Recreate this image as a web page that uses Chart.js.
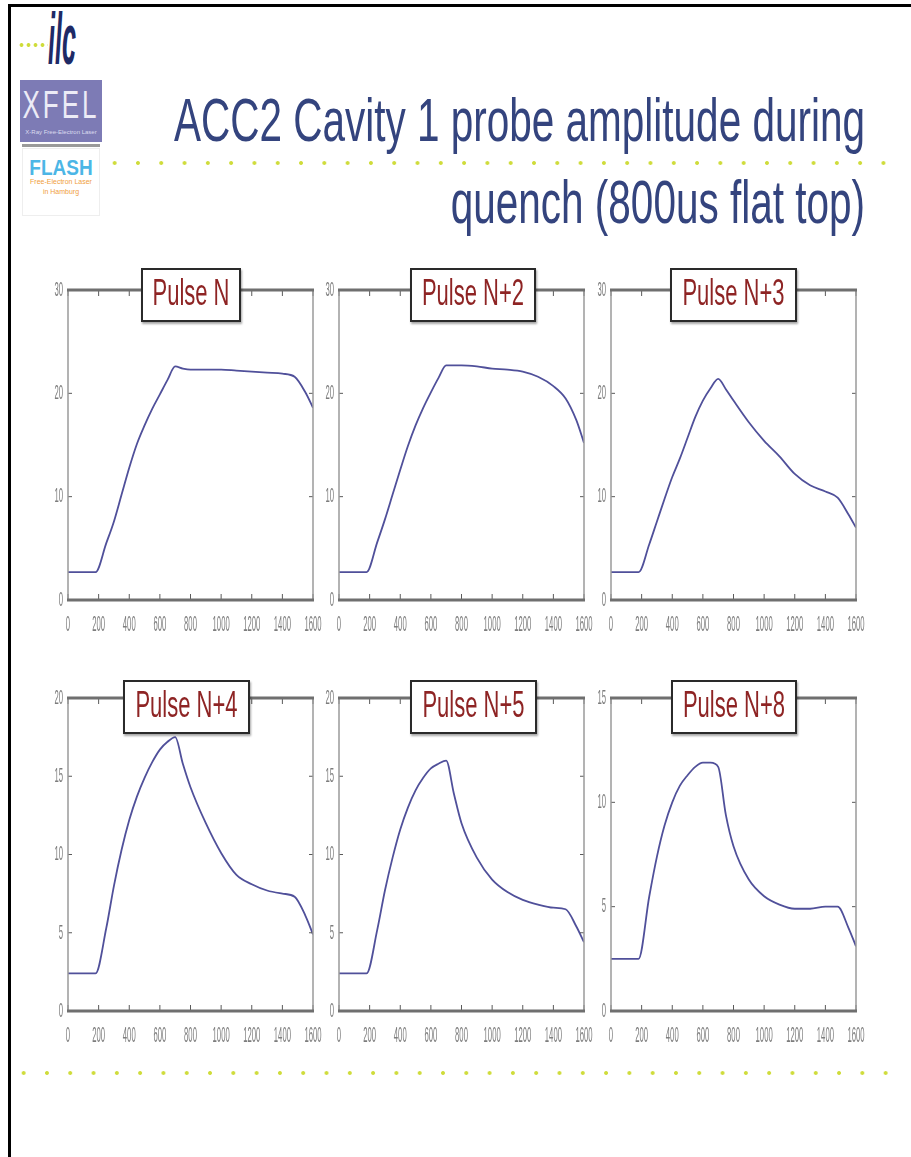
<!DOCTYPE html>
<html>
<head>
<meta charset="utf-8">
<script src="https://cdn.jsdelivr.net/npm/chart.js@4.4.1/dist/chart.umd.min.js"></script>
<style>
body { margin: 0; background: #fff; }
#page { position: relative; width: 911px; height: 1157px; overflow: hidden; font-family: "Liberation Sans", Arial, sans-serif; }
.edge-top { position: absolute; left: 8px; top: 4px; width: 903px; height: 3px; background: #000; }
.edge-left { position: absolute; left: 8px; top: 4px; width: 3px; height: 1153px; background: #000; }
.dots { position: absolute; height: 6px; background-image: radial-gradient(circle, #cfdc3a 1.5px, rgba(255,255,255,0) 2.3px); background-size: 23.3px 6px; }
.title { position: absolute; right: 46px; font-size: 40.5px; color: #34447e; line-height: 1; white-space: nowrap; transform: scaleY(1.5); transform-origin: 100% 0; }
.tag { position: absolute; height: 54px; border: 2px solid #2a2a2a; background: #fff; box-shadow: 1px 2px 2px rgba(0,0,0,0.35); box-sizing: border-box; text-align: center; color: #8e2424; font-size: 22px; z-index: 2; }
.tag span { display: inline-block; line-height: 1; transform: scaleY(1.65); margin-top: 12px; }
canvas { position: absolute; }
.ilc { position: absolute; left: 48px; top: 4px; font: italic bold 36px "Liberation Sans", Arial, sans-serif; color: #1e2a66; line-height: 1; transform: scale(0.7, 2.0); transform-origin: 0 0; }
.xfel { position: absolute; left: 20px; top: 80px; width: 82px; height: 62px; background: #7d7bb5; color: #ecebf6; text-align: center; }
.xfel b { display: block; font-weight: normal; font-size: 26px; letter-spacing: 3px; line-height: 1; margin-top: 11px; transform: scaleY(1.5); }
.xfel i { display: block; font-style: normal; font-size: 6px; margin-top: 12px; color: #dcdbef; }
.bar { position: absolute; left: 22px; top: 144px; width: 78px; height: 3px; background: #9a9a9a; }
.flash { position: absolute; left: 22px; top: 148px; width: 78px; height: 68px; border: 1px solid #eee; box-sizing: border-box; text-align: center; }
.flash b { display: block; color: #4cb6e6; font-size: 19px; margin-top: 9px; line-height: 1; transform: scaleY(1.2); }
.flash i { display: block; font-style: normal; color: #f0a040; font-size: 7px; line-height: 10px; }
</style>
</head>
<body>
<div id="page">
  <div class="edge-top"></div>
  <div class="edge-left"></div>

  <div class="dots" style="left:18px; top:42px; width:30px; background-size:7px 6px;"></div>
  <div class="ilc">ilc</div>
  <div class="xfel"><b>XFEL</b><i>X-Ray Free-Electron Laser</i></div>
  <div class="bar"></div>
  <div class="flash"><b>FLASH</b><i>Free-Electron Laser</i><i>in Hamburg</i></div>

  <div class="title" style="top:90px;">ACC2 Cavity 1 probe amplitude during</div>
  <div class="title" style="top:172px;">quench (800us flat top)</div>

  <div class="dots" style="left:103px; top:160px; width:800px;"></div>
  <div class="dots" style="left:12px; top:1070px; width:890px;"></div>
</div>

<script>
// time axis (us) shared by all pulses
const times = [0, 100, 180, 250, 300, 350, 400, 450, 500, 550, 600, 650, 700, 750, 800, 900, 1000, 1100, 1200, 1300, 1400, 1480, 1550, 1600];

// probe amplitude per pulse
const pulseN  = [2.7, 2.7, 2.7, 5.5, 7.6, 10.2, 12.8, 15.1, 16.9, 18.5, 19.9, 21.3, 22.6, 22.4, 22.3, 22.3, 22.3, 22.2, 22.1, 22.0, 21.9, 21.6, 20.1, 18.6];
const pulseN2 = [2.7, 2.7, 2.7, 5.6, 7.8, 10.2, 12.6, 14.9, 16.9, 18.6, 20.1, 21.5, 22.7, 22.7, 22.7, 22.6, 22.4, 22.3, 22.1, 21.6, 20.7, 19.5, 17.4, 15.2];
const pulseN3 = [2.7, 2.7, 2.7, 5.4, 7.6, 9.8, 11.9, 13.7, 15.7, 17.7, 19.3, 20.5, 21.4, 20.4, 19.3, 17.2, 15.4, 13.9, 12.2, 11.1, 10.5, 9.9, 8.3, 7.0];
const pulseN4 = [2.4, 2.4, 2.4, 5.3, 8.0, 10.3, 12.2, 13.7, 14.9, 15.9, 16.7, 17.2, 17.5, 15.8, 14.3, 12.0, 10.1, 8.7, 8.1, 7.7, 7.5, 7.3, 6.1, 4.9];
const pulseN5 = [2.4, 2.4, 2.4, 5.2, 7.7, 9.8, 11.6, 13.0, 14.1, 14.9, 15.5, 15.8, 16.0, 13.9, 12.0, 9.8, 8.4, 7.6, 7.1, 6.8, 6.6, 6.5, 5.4, 4.4];
const pulseN8 = [2.5, 2.5, 2.5, 5.5, 7.4, 8.9, 10.0, 10.8, 11.3, 11.7, 11.9, 11.9, 11.7, 9.4, 7.9, 6.3, 5.5, 5.1, 4.9, 4.9, 5.0, 5.0, 4.0, 3.1];

const pulseNames = ['Pulse N', 'Pulse N+2', 'Pulse N+3', 'Pulse N+4', 'Pulse N+5', 'Pulse N+8'];
const xTicks = [0, 200, 400, 600, 800, 1000, 1200, 1400, 1600];
const yTicks30 = [0, 10, 20, 30];
const yTicks20 = [0, 5, 10, 15, 20];
const yTicks15 = [0, 5, 10, 15];

// where each little plot sits on the slide
const panels = [
  { values: pulseN,  yTicks: yTicks30, left: 68,  top: 290, h: 310, tag: [141, 268, 100] },
  { values: pulseN2, yTicks: yTicks30, left: 339, top: 290, h: 310, tag: [410, 268, 126] },
  { values: pulseN3, yTicks: yTicks30, left: 611, top: 290, h: 310, tag: [670, 268, 127] },
  { values: pulseN4, yTicks: yTicks20, left: 68,  top: 698, h: 313, tag: [123, 680, 127] },
  { values: pulseN5, yTicks: yTicks20, left: 339, top: 698, h: 313, tag: [410, 680, 127] },
  { values: pulseN8, yTicks: yTicks15, left: 611, top: 698, h: 313, tag: [671, 680, 126] }
];
const plotW = 245;

// matlab-like box, inward ticks and squeezed tick labels
const framePlugin = {
  id: 'frame',
  afterDatasetsDraw(chart, args, opts) {
    const { ctx, chartArea: a, scales: { x, y } } = chart;
    const seg = (x1, y1, x2, y2) => { ctx.beginPath(); ctx.moveTo(x1, y1); ctx.lineTo(x2, y2); ctx.stroke(); };
    ctx.save();
    ctx.strokeStyle = '#5a5a5a';
    ctx.lineWidth = 1;
    xTicks.forEach(v => {
      const px = x.getPixelForValue(v);
      seg(px, a.bottom, px, a.bottom - 6);
      seg(px, a.top, px, a.top + 6);
    });
    opts.yTicks.forEach(v => {
      const py = y.getPixelForValue(v);
      seg(a.left, py, a.left + 4, py);
      seg(a.right, py, a.right - 4, py);
    });
    ctx.strokeStyle = '#9a9a9a';
    ctx.lineWidth = 1.5;
    seg(a.left, a.top, a.left, a.bottom);
    seg(a.right, a.top, a.right, a.bottom);
    ctx.strokeStyle = '#6f6f6f';
    ctx.lineWidth = 3;
    seg(a.left - 1, a.top, a.right + 1, a.top);
    seg(a.left - 1, a.bottom, a.right + 1, a.bottom);

    ctx.fillStyle = '#7d7d7d';
    ctx.font = '14px "Liberation Sans", Arial, sans-serif';
    ctx.textBaseline = 'middle';
    ctx.textAlign = 'center';
    xTicks.forEach(v => {
      ctx.save();
      ctx.translate(x.getPixelForValue(v), a.bottom + 25);
      ctx.scale(0.55, 1.6);
      ctx.fillText(String(v), 0, 0);
      ctx.restore();
    });
    ctx.textAlign = 'right';
    opts.yTicks.forEach(v => {
      ctx.save();
      ctx.translate(a.left - 5, y.getPixelForValue(v));
      ctx.scale(0.55, 1.5);
      ctx.fillText(String(v), 0, 0);
      ctx.restore();
    });
    ctx.restore();
  }
};

const page = document.getElementById('page');

panels.forEach((p, i) => {
  const canvas = document.createElement('canvas');
  canvas.width = plotW + 50;
  canvas.height = p.h + 50;
  canvas.style.left = (p.left - 40) + 'px';
  canvas.style.top = (p.top - 12) + 'px';
  page.appendChild(canvas);

  const tag = document.createElement('div');
  tag.className = 'tag';
  tag.style.left = p.tag[0] + 'px';
  tag.style.top = p.tag[1] + 'px';
  tag.style.width = p.tag[2] + 'px';
  tag.innerHTML = '<span>' + pulseNames[i] + '</span>';
  page.appendChild(tag);

  new Chart(canvas.getContext('2d'), {
    type: 'line',
    data: {
      datasets: [{
        data: times.map((t, k) => ({ x: t, y: p.values[k] })),
        borderColor: '#50509a',
        borderWidth: 1.8,
        pointRadius: 0,
        cubicInterpolationMode: 'monotone',
        fill: false
      }]
    },
    options: {
      responsive: false,
      animation: false,
      layout: { padding: { left: 40, right: 10, top: 12, bottom: 38 } },
      plugins: {
        legend: { display: false },
        tooltip: { enabled: false },
        frame: { yTicks: p.yTicks }
      },
      scales: {
        x: { type: 'linear', display: false, min: 0, max: 1600 },
        y: { type: 'linear', display: false, min: 0, max: p.yTicks[p.yTicks.length - 1] }
      }
    },
    plugins: [framePlugin]
  });
});
</script>
</body>
</html>
